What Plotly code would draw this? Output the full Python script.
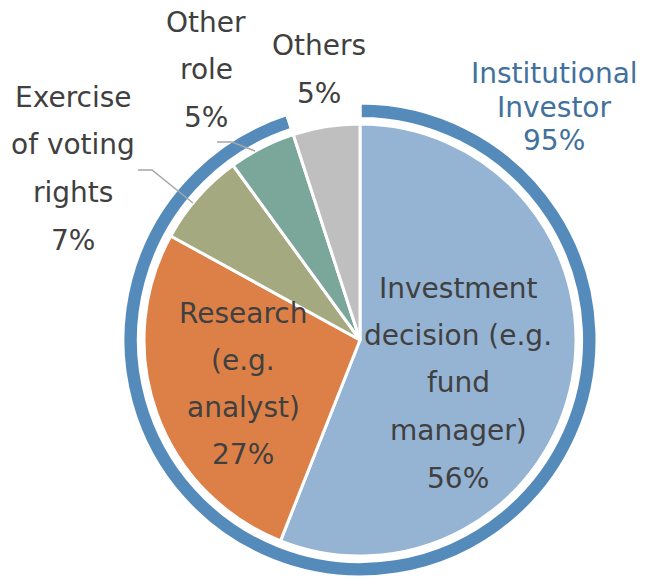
import plotly.graph_objects as go

# ---- data ----
roles = ["Investment decision (e.g. fund manager)", "Research (e.g. analyst)",
         "Exercise of voting rights", "Other role", "Others"]
shares = [56, 27, 7, 5, 5]
ring_labels = ["Institutional Investor", "Others"]
ring_shares = [95, 5]

slice_colors = ["#95B3D3", "#DD8047", "#A4A97F", "#7BA69A", "#BFBFBF"]
ring_color = "#558BBB"
text_color = "#404040"
inst_color = "#41719C"

W, H = 651, 577
CX, CY = 360, 340          # pie centre in pixels (from top)
R_PIE, R_RING = 216, 237


def px_dom(cx, cy, r):
    return dict(x=[(cx - r) / W, (cx + r) / W],
                y=[max(0, (H - cy - r) / H), min(1, (H - cy + r) / H)])


fig = go.Figure()
fig.add_trace(go.Pie(
    labels=ring_labels, values=ring_shares, sort=False, direction="clockwise",
    rotation=0, hole=0.935, textinfo="none", hoverinfo="label+percent",
    marker=dict(colors=[ring_color, "rgba(0,0,0,0)"], line=dict(color="white", width=3)),
    domain=px_dom(CX, CY, R_RING), showlegend=False))
fig.add_trace(go.Pie(
    labels=roles, values=shares, sort=False, direction="clockwise", rotation=0,
    textinfo="none", hoverinfo="label+percent",
    marker=dict(colors=slice_colors, line=dict(color="white", width=3)),
    domain=px_dom(CX, CY, R_PIE), showlegend=False))

# label layout: wrapped lines, centre position, line spacing
wrapped = [
    ["Investment", "decision (e.g.", "fund", "manager)"],
    ["Research", "(e.g.", "analyst)"],
    ["Exercise", "of voting", "rights"],
    ["Other", "role"],
    ["Others"],
]
label_pos = [(458, 288, 47.5), (243, 313, 47.3), (73, 97, 47.7), (206, 22, 47.5), (319, 46, 47.5)]

annotations = []


def add_block(lines, x, y0, dy, color):
    for i, t in enumerate(lines):
        annotations.append(dict(
            x=x / W, y=1 - (y0 + i * dy) / H, xref="paper", yref="paper",
            text=t, showarrow=False, xanchor="center", yanchor="middle",
            font=dict(family="DejaVu Sans", size=28, color=color)))


for lines, val, (x, y0, dy) in zip(wrapped, shares, label_pos):
    add_block(lines + [f"{val}%"], x, y0, dy, text_color)

add_block(["Institutional", "Investor", f"{ring_shares[0]}%"], 554, 73, 34, inst_color)


def pth(pts):
    return "M " + " L ".join(f"{x / W},{1 - y / H}" for x, y in pts)


shapes = [
    dict(type="path", xref="paper", yref="paper",
         path=pth([(138, 170), (152, 170), (193, 203)]),
         line=dict(color="#A6A6A6", width=1.5)),
    dict(type="path", xref="paper", yref="paper",
         path=pth([(217, 142), (232, 142), (255, 151)]),
         line=dict(color="#A6A6A6", width=1.5)),
]

fig.update_layout(
    width=W, height=H, margin=dict(l=0, r=0, t=0, b=0),
    paper_bgcolor="white", plot_bgcolor="white",
    annotations=annotations, shapes=shapes)

fig.write_html("out.html", config={"displayModeBar": False},
               post_script="document.body.style.margin='0';")
